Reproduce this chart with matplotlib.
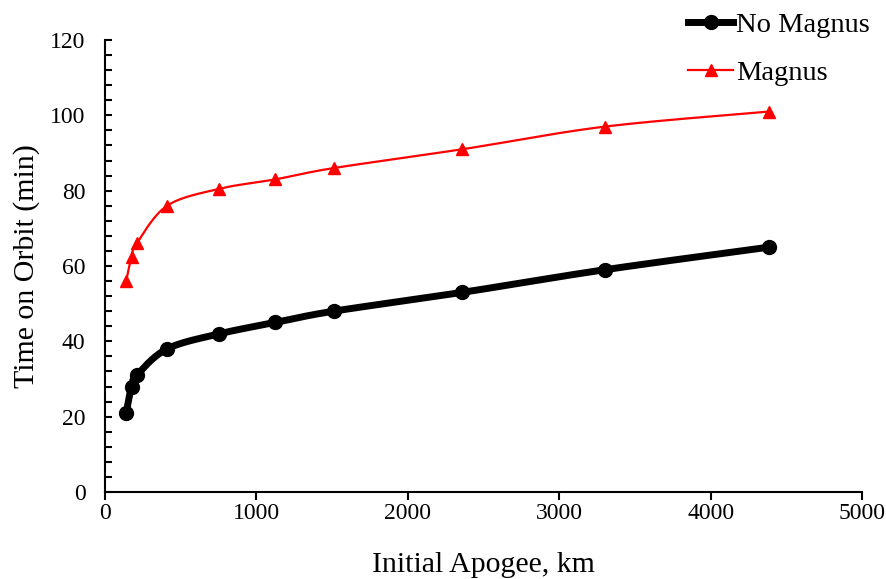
import numpy as np
import matplotlib.pyplot as plt
from matplotlib.ticker import MultipleLocator

# Initial apogee (km) and time spent on orbit (min)
apogee_km = [140, 175, 210, 410, 755, 1125, 1510, 2360, 3300, 4385]
time_no_magnus = [21, 28, 31, 38, 42, 45, 48, 53, 59, 65]
time_magnus = [56, 62.5, 66, 76, 80.5, 83, 86, 91, 97, 101]

plt.rcParams['font.family'] = ['Liberation Serif', 'DejaVu Serif']


def smooth_curve(x, y, n=30, tension=1/6):
    # Bezier-style smoothing between points (like a spreadsheet "smoothed line")
    x = np.asarray(x, float)
    y = np.asarray(y, float)
    xs, ys = [x[0]], [y[0]]
    for i in range(len(x) - 1):
        i0 = max(i - 1, 0)
        i3 = min(i + 2, len(x) - 1)
        c1x = x[i] + (x[i + 1] - x[i0]) * tension
        c1y = y[i] + (y[i + 1] - y[i0]) * tension
        c2x = x[i + 1] - (x[i3] - x[i]) * tension
        c2y = y[i + 1] - (y[i3] - y[i]) * tension
        t = np.linspace(0, 1, n)[1:]
        bx = (1-t)**3*x[i] + 3*(1-t)**2*t*c1x + 3*(1-t)*t**2*c2x + t**3*x[i+1]
        by = (1-t)**3*y[i] + 3*(1-t)**2*t*c1y + 3*(1-t)*t**2*c2y + t**3*y[i+1]
        xs.extend(bx)
        ys.extend(by)
    return np.array(xs), np.array(ys)


fig = plt.figure(figsize=(8.87, 5.79), dpi=100)
ax = fig.add_axes([0.1184, 0.1503, 0.8534, 0.7806])

# No Magnus
sx, sy = smooth_curve(apogee_km, time_no_magnus)
ax.plot(sx, sy, color='black', lw=5, solid_capstyle='round', zorder=3)
ax.plot(apogee_km, time_no_magnus, 'o', color='black', ms=10, zorder=4)

# Magnus
sx, sy = smooth_curve(apogee_km, time_magnus)
ax.plot(sx, sy, color='red', lw=1.6, zorder=3)
ax.plot(apogee_km, time_magnus, '^', color='red', ms=9, zorder=4)

# Legend proxies
h1, = ax.plot([], [], '-o', color='black', lw=5, ms=10)
h2, = ax.plot([], [], '-^', color='red', lw=1.6, ms=9)
fig.legend([h1, h2], ['No Magnus', 'Magnus'], loc='upper right',
           bbox_to_anchor=(1.0, 1.008), frameon=False, fontsize=20.5,
           handlelength=1.6, handletextpad=0.1, labelspacing=0.75,
           borderaxespad=0.2)

ax.set_xlim(0, 5000)
ax.set_ylim(0, 120)
ax.xaxis.set_major_locator(MultipleLocator(1000))
ax.yaxis.set_major_locator(MultipleLocator(20))
ax.yaxis.set_minor_locator(MultipleLocator(4))
ax.tick_params(axis='x', direction='out', length=6, width=1.5, labelsize=17, pad=2)
ax.tick_params(axis='y', which='both', direction='in', length=5, width=1.5, labelsize=17, pad=14)

for s in ['top', 'right']:
    ax.spines[s].set_visible(False)
for s in ['left', 'bottom']:
    ax.spines[s].set_linewidth(1.5)

ax.set_xlabel('Initial Apogee, km', fontsize=21.5, labelpad=20)
ax.set_ylabel('Time on Orbit (min)', fontsize=21.5, labelpad=7)

fig.savefig('out.png', dpi=100)
